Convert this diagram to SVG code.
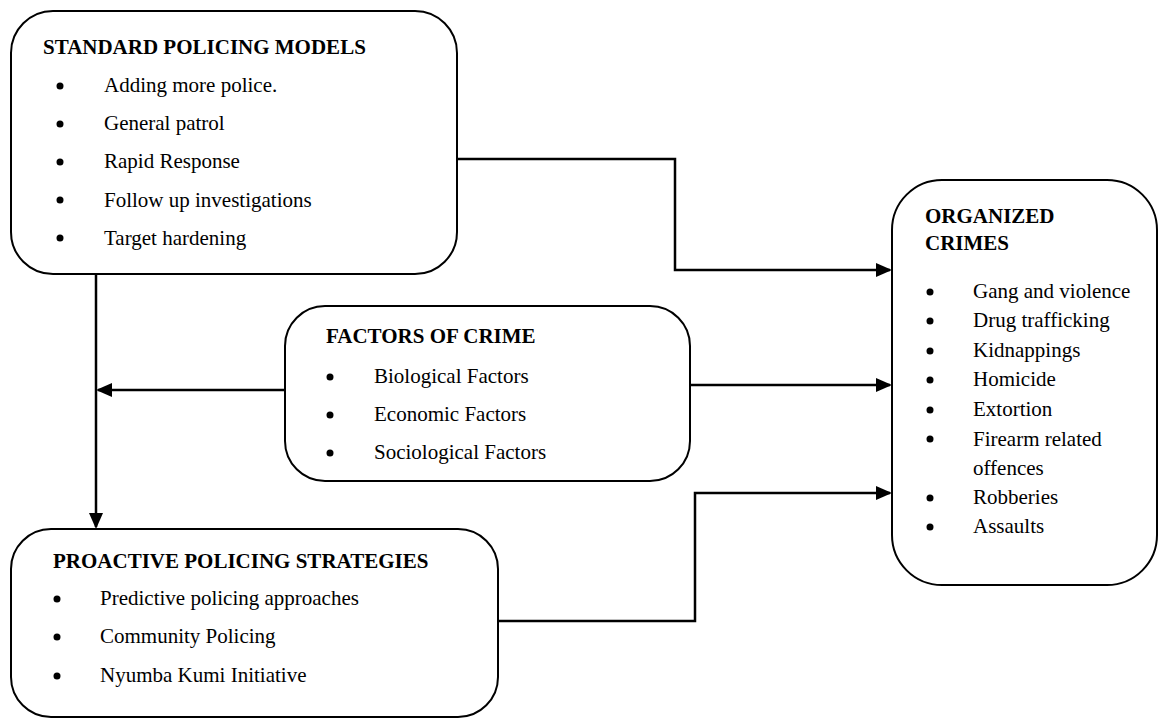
<svg xmlns="http://www.w3.org/2000/svg" width="1160" height="719" viewBox="0 0 1160 719">
<style>
  .box { fill: #fff; stroke: #000; stroke-width: 2; }
  .t { font-family: "Liberation Serif", "Times New Roman", serif; font-size: 21px; fill: #000; }
  .h { font-weight: bold; }
  .b { fill: #000; }
  .c { fill: none; stroke: #000; stroke-width: 2.5; }
</style>
<defs>
  <marker id="arr" markerUnits="userSpaceOnUse" markerWidth="18" markerHeight="16" refX="14" refY="7" orient="auto">
    <path d="M0,0 L16,7 L0,14 Z" fill="#000"/>
  </marker>
</defs>
<rect width="1160" height="719" fill="#fff"/>

<g id="connectors">
  <path class="c" d="M457,159 H675 V270 H890" marker-end="url(#arr)"/>
  <path class="c" d="M690,385 H890" marker-end="url(#arr)"/>
  <path class="c" d="M498,621 H695 V493 H890" marker-end="url(#arr)"/>
  <path class="c" d="M285,390 H98" marker-end="url(#arr)"/>
  <path class="c" d="M96,274 V527" marker-end="url(#arr)"/>
</g>

<g id="standard-policing">
  <rect class="box" x="11" y="11" width="446" height="263" rx="42" ry="42"/>
  <text class="t h" x="43" y="54">STANDARD POLICING MODELS</text>
  <circle class="b" cx="60" cy="86" r="3.5"/>
  <text class="t" x="104" y="92">Adding more police.</text>
  <circle class="b" cx="60" cy="124" r="3.5"/>
  <text class="t" x="104" y="130">General patrol</text>
  <circle class="b" cx="60" cy="162" r="3.5"/>
  <text class="t" x="104" y="168">Rapid Response</text>
  <circle class="b" cx="60" cy="200" r="3.5"/>
  <text class="t" x="104" y="207">Follow up investigations</text>
  <circle class="b" cx="60" cy="238" r="3.5"/>
  <text class="t" x="104" y="245">Target hardening</text>
</g>

<g id="factors-of-crime">
  <rect class="box" x="285" y="306" width="405" height="175" rx="40" ry="40"/>
  <text class="t h" x="326" y="343">FACTORS OF CRIME</text>
  <circle class="b" cx="330" cy="377" r="3.5"/>
  <text class="t" x="374" y="383">Biological Factors</text>
  <circle class="b" cx="330" cy="415" r="3.5"/>
  <text class="t" x="374" y="421">Economic Factors</text>
  <circle class="b" cx="330" cy="453" r="3.5"/>
  <text class="t" x="374" y="459">Sociological Factors</text>
</g>

<g id="proactive-policing">
  <rect class="box" x="11" y="529" width="487" height="188" rx="40" ry="40"/>
  <text class="t h" x="53" y="568">PROACTIVE POLICING STRATEGIES</text>
  <circle class="b" cx="57" cy="599" r="3.5"/>
  <text class="t" x="100" y="605">Predictive policing approaches</text>
  <circle class="b" cx="57" cy="637" r="3.5"/>
  <text class="t" x="100" y="643">Community Policing</text>
  <circle class="b" cx="57" cy="676" r="3.5"/>
  <text class="t" x="100" y="682">Nyumba Kumi Initiative</text>
</g>

<g id="organized-crimes">
  <rect class="box" x="892" y="180" width="265" height="405" rx="50" ry="50"/>
  <text class="t h" x="925" y="223">ORGANIZED</text>
  <text class="t h" x="925" y="250">CRIMES</text>
  <circle class="b" cx="930" cy="292" r="3.5"/>
  <text class="t" x="973" y="298">Gang and violence</text>
  <circle class="b" cx="930" cy="321" r="3.5"/>
  <text class="t" x="973" y="327">Drug trafficking</text>
  <circle class="b" cx="930" cy="351" r="3.5"/>
  <text class="t" x="973" y="357">Kidnappings</text>
  <circle class="b" cx="930" cy="380" r="3.5"/>
  <text class="t" x="973" y="386">Homicide</text>
  <circle class="b" cx="930" cy="410" r="3.5"/>
  <text class="t" x="973" y="416">Extortion</text>
  <circle class="b" cx="930" cy="439" r="3.5"/>
  <text class="t" x="973" y="446">Firearm related</text>
  <text class="t" x="973" y="475">offences</text>
  <circle class="b" cx="930" cy="498" r="3.5"/>
  <text class="t" x="973" y="504">Robberies</text>
  <circle class="b" cx="930" cy="527" r="3.5"/>
  <text class="t" x="973" y="533">Assaults</text>
</g>
</svg>
